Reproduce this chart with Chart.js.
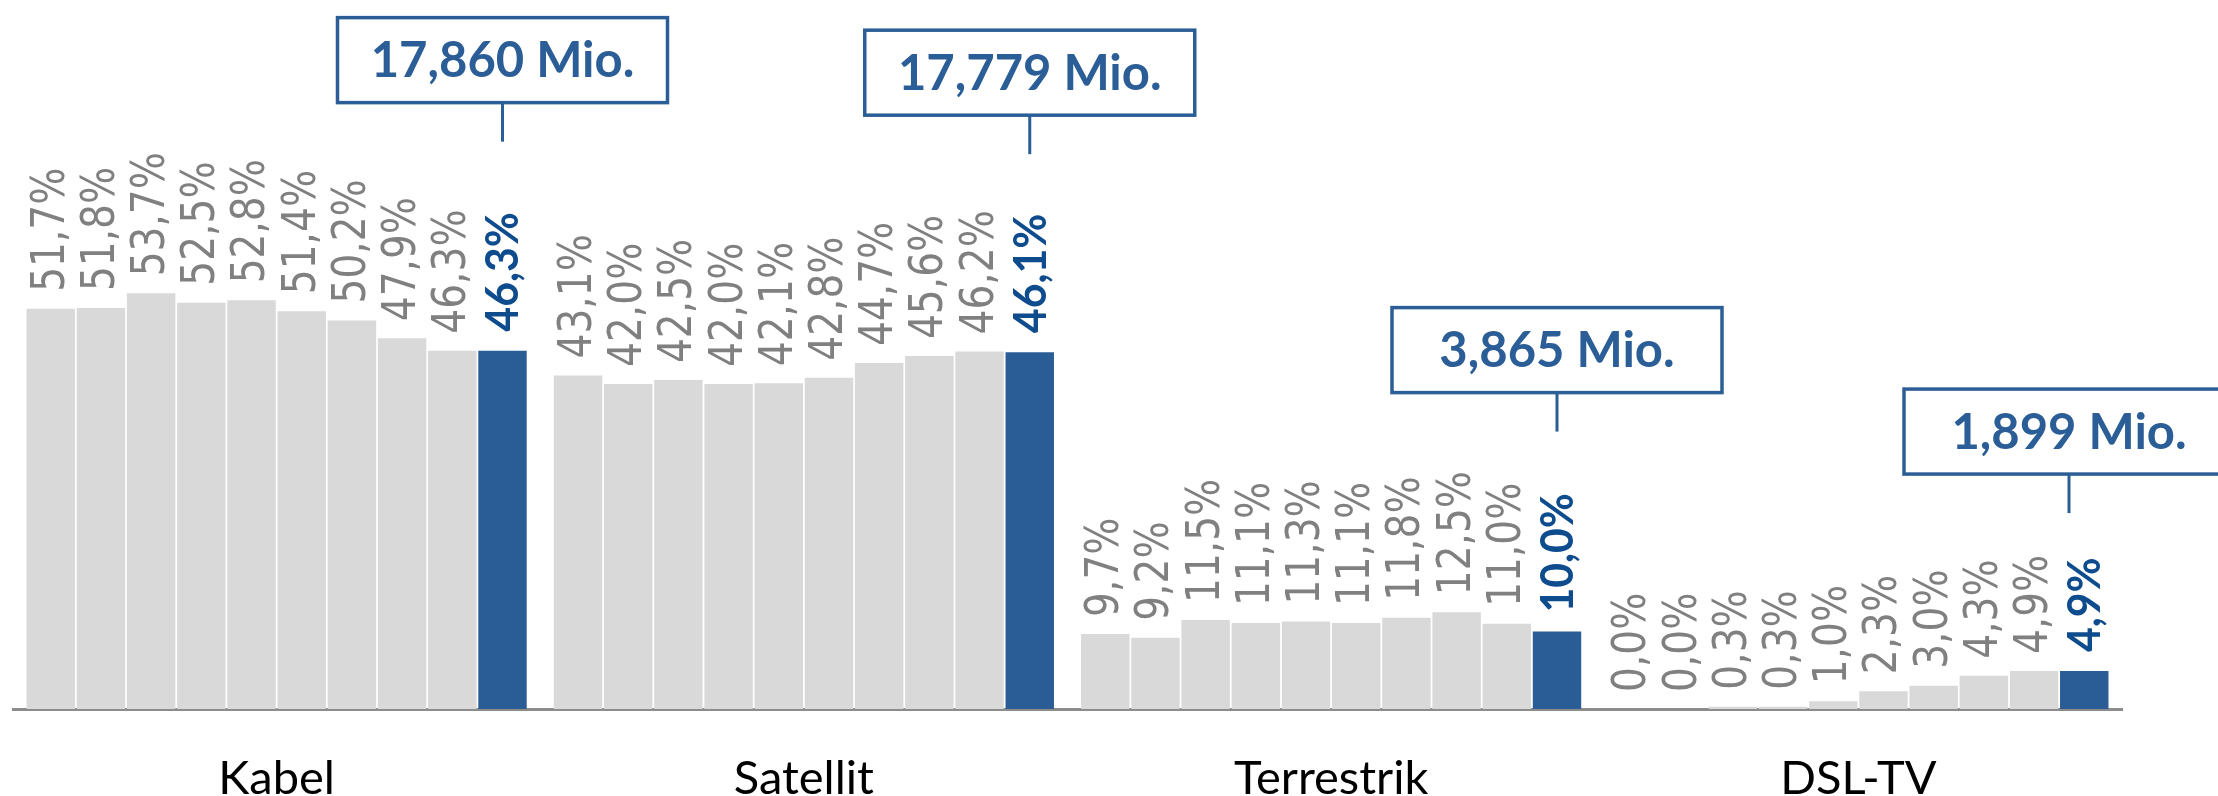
<!DOCTYPE html>
<html>
<head>
<meta charset="utf-8">
<script src="https://cdn.jsdelivr.net/npm/chart.js@4.4.1/dist/chart.umd.min.js"></script>
<style>
  html, body { margin: 0; padding: 0; background: #ffffff; }
  canvas { display: block; }
</style>
</head>
<body>
<canvas id="c" width="2218" height="796"></canvas>
<script>
// ---- data ----
const categories = ['Kabel', 'Satellit', 'Terrestrik', 'DSL-TV'];
const kabel      = [51.7, 51.8, 53.7, 52.5, 52.8, 51.4, 50.2, 47.9, 46.3, 46.3];
const satellit   = [43.1, 42.0, 42.5, 42.0, 42.1, 42.8, 44.7, 45.6, 46.2, 46.1];
const terrestrik = [9.7, 9.2, 11.5, 11.1, 11.3, 11.1, 11.8, 12.5, 11.0, 10.0];
const dslTv      = [0.0, 0.0, 0.3, 0.3, 1.0, 2.3, 3.0, 4.3, 4.9, 4.9];
const households = ['17,860 Mio.', '17,779 Mio.', '3,865 Mio.', '1,899 Mio.'];

const seriesByCategory = [kabel, satellit, terrestrik, dslTv];
const nSeries = kabel.length;

const GRAY = '#D9D9D9';
const BLUE = '#2A5D96';
const datasets = [];
for (let s = 0; s < nSeries; s++) {
  datasets.push({
    data: seriesByCategory.map(arr => arr[s]),
    backgroundColor: s === nSeries - 1 ? BLUE : GRAY,
    borderWidth: 0,
    barPercentage: 0.965,
    categoryPercentage: 0.952
  });
}

const fmt = v => v.toFixed(1).replace('.', ',') + '%';

// vertical offsets of the callout connectors above the highlighted bar (layout)
const calloutLift = [209, 198, 200, 158];

const labelPlugin = {
  id: 'labels',
  afterDatasetsDraw(chart) {
    const ctx = chart.ctx;
    ctx.save();
    for (let s = 0; s < nSeries; s++) {
      const meta = chart.getDatasetMeta(s);
      const last = s === nSeries - 1;
      meta.data.forEach((el, i) => {
        const v = chart.data.datasets[s].data[i];
        ctx.save();
        ctx.translate(el.x + 1, el.y - (last ? 19 : 17));
        ctx.rotate(-Math.PI / 2);
        ctx.textAlign = 'left';
        ctx.textBaseline = 'middle';
        if (last) {
          ctx.scale(0.93, 1);
          ctx.font = 'bold 46px Lato';
          ctx.fillStyle = '#0F4C8E';
        } else {
          ctx.scale(0.85, 1);
          ctx.font = '46px "DejaVu Sans"';
          ctx.fillStyle = '#808080';
        }
        ctx.fillText(fmt(v), 0, 0);
        ctx.restore();
      });
    }
    // callout boxes
    const meta = chart.getDatasetMeta(nSeries - 1);
    const W = chart.width;
    meta.data.forEach((el, i) => {
      const boxW = 330, boxH = 85, stem = 39;
      let cx = el.x;
      const maxRight = W + 16;
      if (cx + boxW / 2 > maxRight) cx = maxRight - boxW / 2;
      const stemEnd = el.y - calloutLift[i];
      const boxBottom = stemEnd - stem;
      const boxTop = boxBottom - boxH;
      ctx.strokeStyle = '#2B5E97';
      ctx.lineWidth = 3.5;
      ctx.strokeRect(cx - boxW / 2, boxTop, boxW, boxH);
      ctx.lineWidth = 3;
      ctx.beginPath();
      ctx.moveTo(cx, boxBottom);
      ctx.lineTo(cx, stemEnd);
      ctx.stroke();
      ctx.fillStyle = '#2B5E97';
      ctx.font = 'bold 49px Lato';
      ctx.textAlign = 'center';
      ctx.textBaseline = 'alphabetic';
      ctx.fillText(households[i], cx, boxTop + boxH / 2 + 17);
    });
    ctx.restore();
  }
};

new Chart(document.getElementById('c'), {
  type: 'bar',
  data: { labels: categories, datasets },
  options: {
    responsive: false,
    animation: false,
    devicePixelRatio: 1,
    layout: { padding: { left: 13, right: 96, top: 0, bottom: 0 } },
    plugins: { legend: { display: false }, tooltip: { enabled: false } },
    scales: {
      x: {
        grid: { display: false },
        border: { display: true, color: '#8C8C8C', width: 3 },
        ticks: { color: '#000000', font: { family: 'Lato', size: 47 }, padding: 34, maxRotation: 0 },
        afterFit(scale) { scale.height = 796 - 709; }
      },
      y: {
        display: false,
        min: 0,
        max: 91.6
      }
    }
  },
  plugins: [labelPlugin]
});
</script>
</body>
</html>
